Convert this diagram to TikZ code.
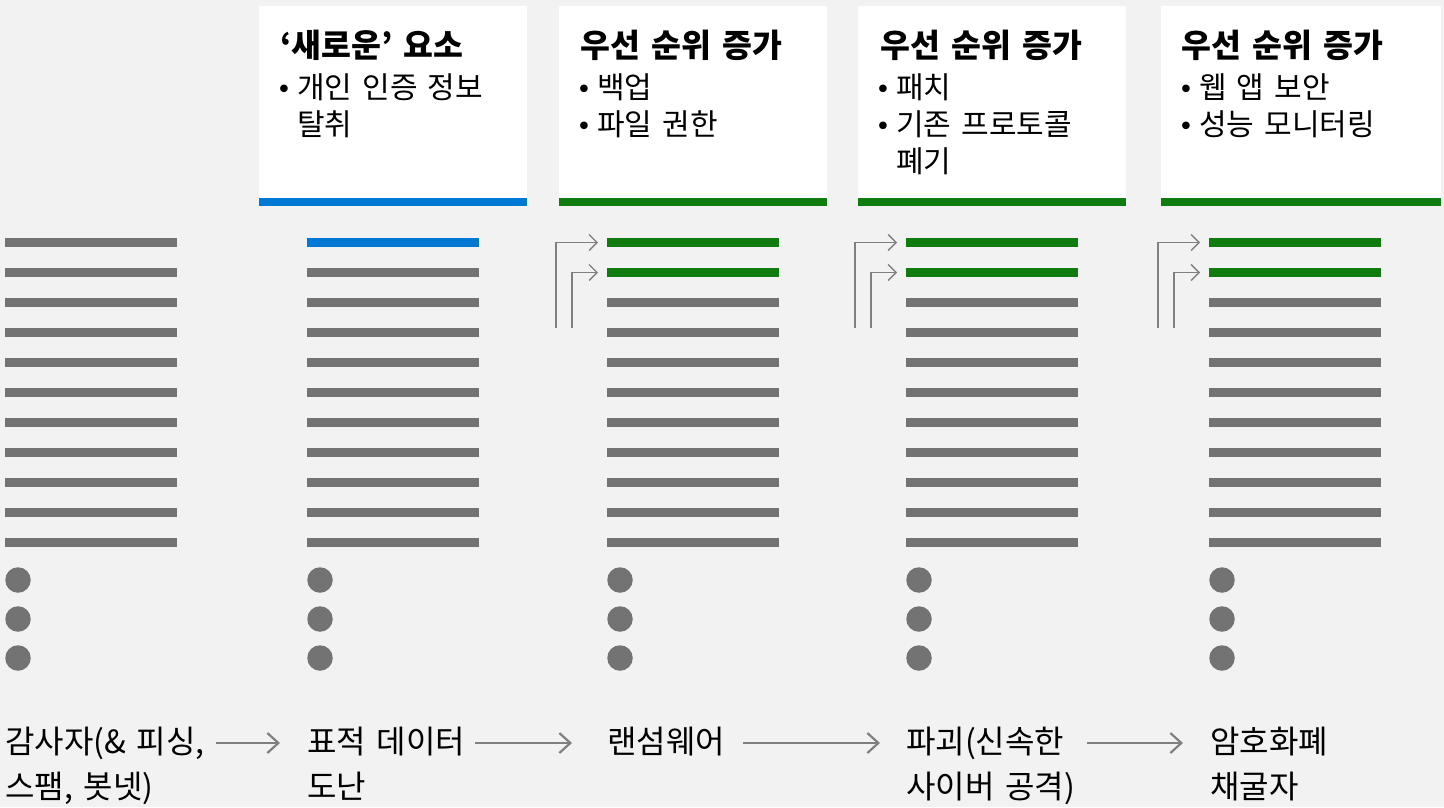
\documentclass[tikz,border=0pt]{standalone}
\usepackage{fontspec}
\setmainfont{Noto Sans CJK KR}[WordSpace=1.5]
\newfontfamily\dv{DejaVu Sans}
\usetikzlibrary{arrows.meta}
\definecolor{bg}{HTML}{F2F2F2}
\definecolor{lg}{HTML}{737373}
\definecolor{ag}{HTML}{808080}
\definecolor{msblue}{HTML}{0078D4}
\definecolor{msgreen}{HTML}{107C10}
\begin{document}
\begin{tikzpicture}[x=1pt,y=-1pt,
  hdr/.style={font=\bfseries\fontsize{32.5}{38}\selectfont, anchor=base west, inner sep=0},
  itm/.style={font=\fontsize{30}{36}\selectfont, anchor=base west, inner sep=0},
  bul/.style={font=\dv\fontsize{26}{32}\selectfont, anchor=base, inner sep=0},
  lab/.style={font=\fontsize{32}{38}\selectfont, anchor=base west, inner sep=0, text height=27pt, text depth=7pt},
  bar/.style={line width=8.5pt, draw=lg},
  dotn/.style={circle, fill=lg, minimum size=25.5pt, inner sep=0},
  flow/.style={draw=ag, line width=2.2pt, -{Straight Barb[length=11pt,width=20pt]}},
  elb/.style={draw=ag, line width=1.3pt, -{Straight Barb[length=8pt,width=16pt]}},
  hbox/.style={fill=white, anchor=north west, minimum height=200pt, inner sep=0}
]
\useasboundingbox (0,0) rectangle (1444,807);
\fill[bg] (0,0) rectangle (1444,807);

% header boxes
\node[hbox, minimum width=268pt] (b2) at (259,6) {};
\node[hbox, minimum width=268pt] (b3) at (559,6) {};
\node[hbox, minimum width=268pt] (b4) at (858,6) {};
\node[hbox, minimum width=280pt] (b5) at (1161,6) {};
\fill[msblue] (b2.south west) rectangle ([yshift=8pt]b2.south east);
\fill[msgreen] (b3.south west) rectangle ([yshift=8pt]b3.south east);
\fill[msgreen] (b4.south west) rectangle ([yshift=8pt]b4.south east);
\fill[msgreen] (b5.south west) rectangle ([yshift=8pt]b5.south east);

% header texts
\node[hdr] (h2) at (280,57) {‘새로운’ 요소};
\node[bul] (u2a) at (284,98) {•};
\node[itm] (i2a) at (297,98) {개인 인증 정보};
\node[itm] (i2b) at (297,135) {탈취};

\node[hdr] (h3) at (580,57) {우선 순위 증가};
\node[bul] (u3a) at (584,98) {•};
\node[itm] (i3a) at (597,98) {백업};
\node[bul] (u3b) at (584,135) {•};
\node[itm] (i3b) at (597,135) {파일 권한};

\node[hdr] (h4) at (880,57) {우선 순위 증가};
\node[bul] (u4a) at (883,98) {•};
\node[itm] (i4a) at (896,98) {패치};
\node[bul] (u4b) at (883,135) {•};
\node[itm] (i4b) at (896,135) {기존 프로토콜};
\node[itm] (i4c) at (896,172) {폐기};

\node[hdr] (h5) at (1181,57) {우선 순위 증가};
\node[bul] (u5a) at (1186,98) {•};
\node[itm] (i5a) at (1199,98) {웹 앱 보안};
\node[bul] (u5b) at (1186,135) {•};
\node[itm] (i5b) at (1199,135) {성능 모니터링};

% list bars and dots
\foreach \s/\n in {5/1,307/2,607/3,906/4,1209/5}{
  \foreach \k in {0,...,10}{
    \draw[bar] (\s,242.5+30*\k) -- ++(172,0);
  }
  \node[dotn] (d\n a) at (\s+13,580) {};
  \node[dotn] (d\n b) at (\s+13,619) {};
  \node[dotn] (d\n c) at (\s+13,658) {};
}
\draw[bar, draw=msblue] (307,242.5) -- ++(172,0);
\foreach \s in {607,906,1209}{
  \draw[bar, draw=msgreen] (\s,242.5) -- ++(172,0);
  \draw[bar, draw=msgreen] (\s,272.5) -- ++(172,0);
}

% elbow arrows
\foreach \s/\n in {607/3,906/4,1209/5}{
  \coordinate (e\n a) at (\s-51,328);
  \coordinate (e\n b) at (\s-35,328);
  \coordinate (r\n a) at (\s-9,242.5);
  \coordinate (r\n b) at (\s-9,272.5);
  \draw[elb] (e\n a) |- (r\n a);
  \draw[elb] (e\n b) |- (r\n b);
}

% bottom labels
\node[lab] (t1a) at (5,753) {감사자(\& 피싱,};
\node[lab] (t1b) at (5,798) {스팸, 봇넷)};
\node[lab] (t2a) at (307,753) {표적 데이터};
\node[lab] (t2b) at (307,798) {도난};
\node[lab] (t3a) at (607,753) {랜섬웨어};
\node[lab] (t4a) at (906,753) {파괴(신속한};
\node[lab] (t4b) at (906,798) {사이버 공격)};
\node[lab] (t5a) at (1210,753) {암호화폐};
\node[lab] (t5b) at (1210,798) {채굴자};

\draw[flow, shorten <=11pt, shorten >=27pt] (t1a.east) -- (t2a.west);
\draw[flow, shorten <=10pt, shorten >=35pt] (t2a.east) -- (t3a.west);
\draw[flow, shorten <=18pt, shorten >=26pt] (t3a.east) -- (t4a.west);
\draw[flow, shorten <=23pt, shorten >=27pt] (t4a.east) -- (t5a.west);
\end{tikzpicture}
\end{document}
